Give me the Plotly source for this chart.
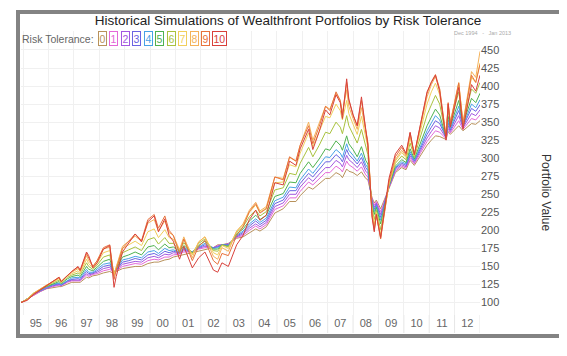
import plotly.graph_objects as go

# ---------------- data ----------------
dates = ["1994-12","1995-03","1995-06","1995-09","1995-12","1996-03","1996-06","1996-07","1996-10","1996-12",
         "1997-03","1997-04","1997-07","1997-08","1997-10","1997-12","1998-03","1998-06","1998-08","1998-09",
         "1998-12","1999-03","1999-06","1999-09","1999-12","2000-03","2000-05","2000-08","2000-10","2000-12",
         "2001-03","2001-05","2001-09","2001-12","2002-03","2002-07","2002-09","2002-11","2003-02","2003-06",
         "2003-09","2003-12","2004-03","2004-05","2004-08","2004-12","2005-04","2005-07","2005-10","2005-12",
         "2006-04","2006-06","2006-09","2006-12","2007-02","2007-05","2007-07","2007-08","2007-10","2007-11",
         "2008-01","2008-03","2008-05","2008-07","2008-08","2008-10","2008-11","2008-12","2009-02","2009-03",
         "2009-06","2009-09","2009-12","2010-02","2010-04","2010-06","2010-09","2010-12","2011-02","2011-04",
         "2011-06","2011-09","2011-10","2011-11","2012-03","2012-05","2012-09","2012-11","2013-01"]

risk_0 = [100,105,111,115,119,121,122,122,126,128, 128,128,135,134,137,138,141,143,140,143,
          147,149,150,150,154,156,156,159,160,163, 165,167,169,172,174,176,180,180,182,189,
          191,197,202,199,205,224,230,240,240,248, 260,257,265,272,272,280,277,273,285,282,
          280,276,281,272,270,245,238,242,230,236, 258,280,287,284,297,290,305,318,325,331,
          330,326,337,333,345,338,348,347,352]
risk_1 = [100,105,111,116,120,122,124,123,128,130, 130,130,138,136,139,140,144,146,141,144,
          150,152,154,153,158,160,159,163,163,166, 167,170,170,174,176,176,179,180,181,190,
          193,200,206,202,208,229,234,245,245,254, 267,263,272,280,280,289,285,281,296,291,
          287,282,288,277,274,243,235,240,226,233, 259,282,289,286,300,292,308,323,331,338,
          336,327,341,335,352,340,355,353,360]
risk_2 = [100,105,112,116,120,123,125,124,129,131, 131,131,140,138,140,142,147,149,141,145,
          153,155,157,156,162,164,162,167,166,169, 168,172,170,175,178,176,178,180,181,191,
          195,203,209,205,211,233,238,250,250,260, 273,268,278,287,287,297,293,288,304,298,
          293,287,295,282,279,241,232,238,222,230, 260,284,291,288,303,294,311,328,337,345,
          342,328,345,337,359,342,362,359,367]
risk_3 = [100,105,112,117,121,124,126,124,130,132, 133,132,143,140,141,144,150,152,141,145,
          156,158,161,159,166,168,165,171,169,171, 169,174,170,176,180,176,177,180,180,192,
          197,206,213,208,214,237,242,255,255,265, 279,274,284,295,295,305,300,295,312,305,
          299,292,301,287,283,239,229,236,218,227, 261,286,293,290,306,296,314,333,343,352,
          348,329,349,339,366,344,369,365,374]
risk_4 = [100,105,112,117,121,125,127,125,131,134, 135,134,146,142,142,146,153,155,141,146,
          159,161,164,162,170,172,168,175,172,173, 170,176,170,177,182,175,176,180,179,193,
          199,209,216,211,217,241,246,260,259,270, 285,279,290,302,301,312,307,301,320,311,
          304,296,307,291,287,237,226,234,214,224, 262,287,295,292,309,297,317,338,349,359,
          353,329,353,341,372,345,375,370,381]
risk_5 = [100,105,112,118,122,126,129,126,133,136, 138,136,150,146,144,149,157,160,141,147,
          163,166,170,166,177,179,173,181,176,177, 171,179,169,179,185,174,174,180,178,195,
          202,213,221,215,221,247,251,267,266,279, 295,287,299,313,311,324,318,311,331,320,
          312,302,316,297,292,235,222,232,209,221, 262,289,298,294,313,299,321,345,357,368,
          360,329,358,344,380,347,383,377,390]
risk_6 = [100,105,113,118,123,127,131,127,135,138, 141,139,155,150,146,152,163,166,140,148,
          169,173,177,172,187,190,181,190,182,182, 172,183,168,182,188,172,171,180,177,197,
          205,219,228,220,226,256,259,279,277,293, 315,302,318,336,334,350,343,334,359,345,
          333,321,340,314,305,230,215,228,201,215, 263,293,303,298,321,302,330,360,374,387,
          375,330,366,348,392,349,396,390,405]
risk_7 = [100,105,113,119,124,128,133,128,137,140, 144,141,160,154,148,155,169,172,139,149,
          175,180,185,179,198,202,190,201,190,188, 173,188,166,184,191,169,166,179,175,199,
          208,225,235,225,231,266,267,291,288,307, 335,316,336,358,356,375,366,353,380,362,
          347,333,358,327,315,226,209,225,195,210, 264,296,308,301,328,304,338,375,392,404,
          388,330,372,350,402,350,412,405,432]
risk_8 = [100,104,113,119,124,129,134,129,138,142, 147,143,165,158,150,158,174,177,137,149,
          178,185,192,185,210,215,199,213,197,193, 173,191,162,184,191,164,160,176,171,199,
          209,228,239,227,233,274,272,301,296,318, 350,325,348,372,368,390,380,362,395,372,
          355,340,370,335,320,222,204,222,190,207, 265,298,311,303,332,305,343,385,402,413,
          395,330,376,350,405,349,420,412,448]
risk_9 = [100,104,112,118,123,129,135,129,138,143, 149,144,168,162,150,158,176,180,132,145,
          175,185,195,186,215,222,203,220,200,193, 168,188,158,178,186,158,153,168,165,193,
          205,226,237,224,230,274,270,302,296,318, 345,320,344,372,366,392,380,360,405,380,
          360,345,380,340,322,220,200,222,188,207, 268,302,315,305,335,305,347,390,406,416,
          396,329,377,348,404,346,415,405,430]
risk_10 = [100,103,111,117,122,128,135,129,138,143, 150,145,170,165,148,155,174,179,121,136,
           170,182,195,184,212,220,198,216,193,185, 160,178,148,162,170,145,142,155,150,180,
           193,215,228,214,221,266,263,296,290,313, 340,312,337,367,360,388,377,355,410,382,
           360,345,385,340,318,218,198,222,190,210, 272,306,318,307,336,305,349,392,405,415,
           392,325,375,343,398,340,402,393,415]

series = [risk_0, risk_1, risk_2, risk_3, risk_4, risk_5, risk_6, risk_7, risk_8, risk_9, risk_10]
risk_labels = ["0","1","2","3","4","5","6","7","8","9","10"]
y_ticks = [100,125,150,175,200,225,250,275,300,325,350,375,400,425,450]
year_starts = ["%d-01-01" % y for y in range(1996, 2014)]

colors = ["#b8925c","#e468d8","#a458e0","#6a64e2","#48a2e6","#4fb24f",
          "#a9c23e","#f1cf5c","#f4b25a","#e8723c","#d8413b"]

# ---------------- layout helpers (pixels -> paper) ----------------
W, H = 567, 356
ML, MR, MT, MB = 13, 95, 23, 49
PW, PH = W - ML - MR, H - MT - MB
def px(x):
    return (x - ML) / PW
def py(y):
    return (H - MB - y) / PH

FONT = "Liberation Sans, Arial, sans-serif"

fig = go.Figure()
for i, vals in enumerate(series):
    fig.add_trace(go.Scatter(x=dates, y=vals, mode="lines", name=risk_labels[i],
                             line=dict(color=colors[i], width=1), showlegend=False,
                             hoverinfo="skip"))

shapes = []
for d in year_starts:
    shapes.append(dict(type="line", xref="x", yref="paper", x0=d, x1=d, y0=0, y1=py(325),
                       line=dict(color="#e6e6e6", width=1)))
shapes.append(dict(type="rect", xref="paper", yref="paper",
                   x0=px(10), x1=px(553), y0=py(328), y1=py(4),
                   line=dict(color="#838383", width=4), layer="above"))

annotations = []
annotations.append(dict(text="Risk Tolerance:", xref="paper", yref="paper", x=px(88), y=py(31),
                        xanchor="right", yanchor="middle", showarrow=False,
                        font=dict(family=FONT, size=10.5, color="#666666")))
for i, lab in enumerate(risk_labels):
    cx = 94.2 + 11.5 * i + (2.5 if i == 10 else 0)
    annotations.append(dict(text=lab, xref="paper", yref="paper", x=px(cx), y=py(31),
                            xanchor="center", yanchor="middle", showarrow=False,
                            font=dict(family=FONT, size=10.5, color=colors[i]),
                            bordercolor=colors[i], borderwidth=1, borderpad=0.5,
                            bgcolor="white"))
annotations.append(dict(text="Dec 1994  &nbsp;-&nbsp;  Jan 2013", xref="paper", yref="paper",
                        x=px(505), y=py(25), xanchor="right", yanchor="middle", showarrow=False,
                        font=dict(family=FONT, size=5.5, color="#aaaaaa")))
annotations.append(dict(text="Portfolio Value", xref="paper", yref="paper", x=px(538), y=py(184),
                        xanchor="center", yanchor="middle", showarrow=False, textangle=90,
                        font=dict(family=FONT, size=12, color="#333333")))

fig.update_layout(
    width=W, height=H,
    margin=dict(l=ML, r=MR, t=MT, b=MB),
    paper_bgcolor="white", plot_bgcolor="white",
    title=dict(text="Historical Simulations of Wealthfront Portfolios by Risk Tolerance",
               x=280 / W, xref="container", xanchor="center", y=1 - 12 / H, yanchor="middle",
               font=dict(family=FONT, size=13.5, color="#222222")),
    xaxis=dict(type="date", range=["1994-12-01", "2013-01-01"], dtick="M12", tick0="1995-01-01",
               tickformat="%y", ticklabelmode="period", ticks="", showgrid=True,
               gridcolor="#f0f0f0", gridwidth=1, zeroline=False, showline=False,
               tickfont=dict(family=FONT, size=11, color="#666666")),
    yaxis=dict(side="right", range=[82.7, 476.3], tickvals=y_ticks, ticks="", showgrid=True,
               gridcolor="#f0f0f0", zeroline=False, showline=False,
               tickfont=dict(family=FONT, size=11, color="#555555")),
    shapes=shapes, annotations=annotations,
)

fig.write_html("out.html")
